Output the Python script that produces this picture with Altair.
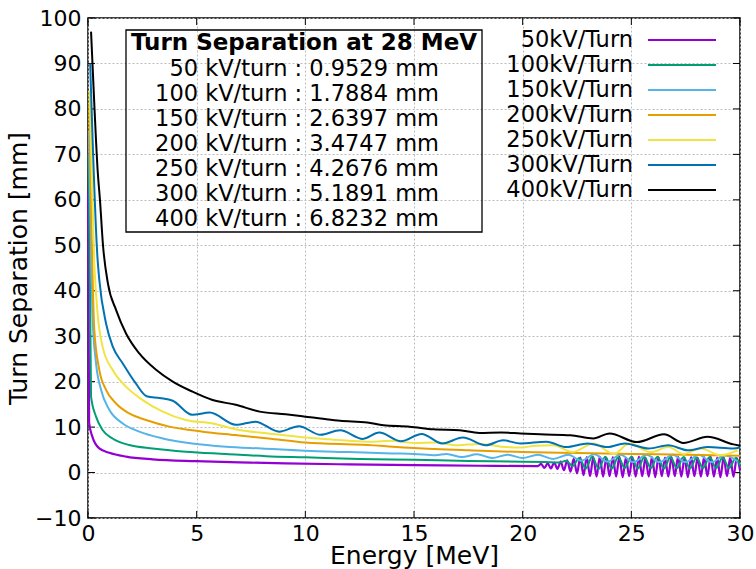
import altair as alt
import pandas as pd

series_names = ["50kV/Turn", "100kV/Turn", "150kV/Turn", "200kV/Turn",
                "250kV/Turn", "300kV/Turn", "400kV/Turn"]
colors = ["#9400d3", "#009e73", "#56b4e9", "#e69f00", "#f0e442", "#0072b2", "#000000"]

xticks = [0, 5, 10, 15, 20, 25, 30]
yticks = [-10, 0, 10, 20, 30, 40, 50, 60, 70, 80, 90, 100]

kv_list = [50, 100, 150, 200, 250, 300, 400]
sep_at_28 = ["0.9529", "1.7884", "2.6397", "3.4747", "4.2676", "5.1891", "6.8232"]
box_title = "Turn Separation at 28 MeV"

# 50 kV/turn
E50 = [0.01, 0.05, 0.2, 0.52, 0.98, 1.75, 2.98, 4.97, 6.96, 9.1, 12.0, 15.0, 18.0, 20.7,
       20.85, 21.0, 21.15, 21.3, 21.45, 21.6, 21.75, 21.9, 22.05, 22.2, 22.35, 22.5, 22.65,
       22.8, 22.95, 23.1, 23.25, 23.4, 23.55, 23.7, 23.85, 24.0, 24.15, 24.3, 24.45, 24.6,
       24.75, 24.9, 25.05, 25.2, 25.35, 25.5, 25.65, 25.8, 25.95, 26.1, 26.25, 26.4, 26.55,
       26.7, 26.85, 27.0, 27.15, 27.3, 27.45, 27.6, 27.75, 27.9, 28.05, 28.2, 28.35, 28.5,
       28.65, 28.8, 28.95, 29.1, 29.25, 29.4, 29.55, 29.7, 29.85, 30.0]
V50 = [62.0, 11.0, 7.9, 5.3, 4.35, 3.5, 2.9, 2.5, 2.25, 2.0, 1.8, 1.65, 1.5, 1.4,
       1.9, 1.0, 2.0, 0.9, 2.2, 0.8, 2.4, 0.5, 2.7, 0.2, 3.0, -0.2, 3.3,
       -0.6, 3.4, -0.8, 3.4, -0.9, 3.5, -0.9, 3.3, -0.8, 3.4, -0.9, 3.5, -1.0,
       3.3, -0.8, 3.4, -0.9, 3.5, -0.8, 3.3, -0.9, 3.4, -1.0, 3.4, -0.8, 3.3,
       -0.9, 3.4, -0.8, 3.5, -0.9, 3.3, -1.0, 3.4, -0.8, 3.3, -0.9, 3.4, -0.8,
       3.5, -0.9, 3.3, -1.0, 3.4, -0.8, 3.3, -0.9, 3.2, 0.5]

# 100 kV/turn
E100 = [0.03, 0.14, 0.37, 0.67, 1.13, 1.9, 2.98, 4.5, 6.35, 8.2, 10.0, 12.5, 15.0, 17.5,
        20.0, 21.0, 21.7, 22.0, 22.3, 22.6, 22.9, 23.2, 23.5, 23.8, 24.1, 24.4, 24.7, 25.0,
        25.3, 25.6, 25.9, 26.2, 26.5, 26.8, 27.1, 27.4, 27.7, 28.0, 28.3, 28.6, 28.9, 29.2,
        29.5, 29.8, 30.0]
V100 = [70.0, 16.7, 12.3, 9.35, 7.5, 6.05, 5.3, 4.6, 4.1, 3.6, 3.35, 3.0, 2.8, 2.55,
        2.4, 2.3, 2.2, 2.6, 1.4, 3.2, 0.9, 3.5, 0.8, 3.5, 0.9, 3.4, 1.0, 3.5,
        0.9, 3.4, 1.0, 3.5, 0.9, 3.4, 1.0, 3.4, 0.9, 3.3, 1.0, 3.4, 1.0, 3.3,
        1.0, 3.2, 1.5]

# 150 kV/turn
E150 = [0.04, 0.2, 0.37, 0.6, 0.98, 1.6, 2.36, 3.44, 4.8, 6.35, 8.0, 10.0, 12.0, 14.0, 15.0,
        16.0, 16.5, 17.2, 17.9, 18.6, 19.3, 20.0, 20.7, 21.4, 22.1, 22.7, 23.3, 23.9, 24.5,
        25.1, 25.7, 26.3, 26.9, 27.5, 28.1, 28.7, 29.3, 29.9]
V150 = [75.0, 35.0, 24.0, 18.2, 13.8, 10.8, 9.0, 7.5, 6.4, 5.7, 5.3, 4.8, 4.5, 4.2, 4.1,
        3.8, 4.1, 3.4, 4.0, 3.2, 3.9, 3.2, 3.9, 3.0, 3.9, 2.6, 4.0, 2.4, 3.9,
        2.3, 3.9, 2.3, 3.9, 2.3, 3.9, 2.3, 3.8, 2.4]

# 200 kV/turn
E200 = [0.06, 0.29, 0.52, 0.83, 1.29, 1.9, 2.67, 3.74, 5.28, 6.8, 8.3, 10.0, 12.65, 15.0,
        17.5, 20.0, 22.5, 25.0, 27.5, 30.0]
V200 = [81.0, 31.4, 22.6, 18.2, 15.2, 13.0, 11.55, 10.1, 9.0, 8.25, 7.5, 6.6, 6.1, 5.4,
        4.9, 4.5, 4.3, 4.1, 3.9, 3.7]

# 250 kV/turn
E250 = [0.07, 0.29, 0.44, 0.67, 1.13, 1.75, 2.5, 3.44, 4.5, 5.74, 6.96, 8.3, 10.0, 11.1,
        12.0, 13.0, 14.0, 15.0, 16.0, 17.0, 18.0, 19.0, 19.9, 20.6, 21.4, 22.3, 23.25, 24.2,
        24.9, 25.9, 26.7, 27.4, 28.2, 29.1, 29.9]
V250 = [84.0, 46.0, 35.0, 27.7, 22.6, 18.9, 16.0, 13.4, 11.55, 10.8, 9.35, 8.6, 7.7, 7.3,
        7.0, 6.8, 7.0, 6.5, 6.6, 6.0, 6.3, 5.7, 5.5, 5.9, 6.0, 4.5, 6.4, 4.1,
        6.4, 4.5, 5.6, 4.1, 5.3, 3.8, 4.9]

# 300 kV/turn
E300 = [0.1, 0.44, 0.52, 0.83, 1.14, 1.6, 2.2, 2.7, 3.3, 3.9, 4.8, 5.6, 6.8, 7.7, 8.8, 9.7,
        10.7, 11.6, 12.65, 13.4, 14.4, 15.35, 16.3, 17.25, 18.3, 19.1, 19.9, 21.1, 22.0,
        23.0, 23.9, 24.7, 25.8, 26.7, 27.6, 28.5, 29.7, 30.0]
V300 = [90.0, 47.0, 42.4, 32.8, 27.7, 24.0, 19.6, 16.8, 16.4, 15.8, 12.7, 13.2, 10.5, 11.2,
        9.0, 10.2, 8.3, 9.3, 7.4, 8.8, 6.9, 8.5, 6.4, 7.7, 6.0, 7.1, 6.4, 6.8, 5.6,
        6.4, 5.6, 6.4, 5.3, 6.0, 4.9, 5.6, 5.3, 5.5]

# 400 kV/turn
E400 = [0.14, 0.3, 0.45, 0.55, 0.69, 0.92, 1.29, 1.75, 2.36, 3.13, 3.9, 4.8, 5.7, 6.8, 7.9,
        9.1, 10.0, 10.7, 11.6, 12.85, 13.6, 14.8, 15.9, 17.1, 18.0, 19.0, 19.9, 20.8, 22.2,
        23.25, 24.0, 25.25, 26.5, 27.4, 28.5, 29.7, 30.0]
V400 = [97.0, 80.0, 66.0, 60.0, 50.0, 41.5, 35.8, 30.6, 26.2, 22.6, 20.0, 17.8, 16.0, 14.9,
        13.4, 12.8, 12.3, 11.9, 11.4, 11.0, 10.4, 10.1, 9.5, 9.3, 8.7, 8.8, 8.6, 8.4, 8.2,
        7.5, 8.6, 6.7, 8.4, 6.5, 7.85, 6.2, 5.9]

all_E = [E50, E100, E150, E200, E250, E300, E400]
all_V = [V50, V100, V150, V200, V250, V300, V400]

rows = []
for name, es, vs in zip(series_names, all_E, all_V):
    for e, v in zip(es, vs):
        rows.append({"E": e, "V": v, "series": name})
df = pd.DataFrame(rows)

box_lines = [f"{kv} kV/turn : {s} mm" for kv, s in zip(kv_list, sep_at_28)]

FONT = "DejaVu Sans"
TICK_FS = 22
TITLE_FS = 25
BOX_FS = 22.5

xs = alt.Scale(domain=[0, 30], nice=False, zero=False)
ys = alt.Scale(domain=[-10, 100], nice=False, zero=False)
x_axis = alt.Axis(values=xticks, title="Energy [MeV]", grid=True, ticks=False, domain=False,
                  labelFontSize=TICK_FS, titleFontSize=TITLE_FS, labelPadding=5,
                  titleY=45, titleBaseline="alphabetic",
                  labelFlush=False, format="d")
y_axis = alt.Axis(values=yticks, title="Turn Separation [mm]", grid=True, ticks=False,
                  domain=False, labelFontSize=TICK_FS, titleFontSize=TITLE_FS, labelPadding=7,
                  titleX=-70, titleAlign="center", titleBaseline="middle", titleAngle=270,
                  labelFlush=False, format="d")
X = alt.X("E:Q", scale=xs, axis=x_axis)
Y = alt.Y("V:Q", scale=ys, axis=y_axis)

cscale = alt.Scale(domain=series_names, range=colors)
color = alt.Color("series:N", scale=cscale, legend=None)

xt = pd.DataFrame({"E": xticks})
yt = pd.DataFrame({"V": yticks})
ticks = [
    alt.Chart(xt).mark_rule(color="black", strokeWidth=1).encode(x=X, y=alt.value(500), y2=alt.value(493)),
    alt.Chart(xt).mark_rule(color="black", strokeWidth=1).encode(x=X, y=alt.value(0), y2=alt.value(7)),
    alt.Chart(yt).mark_rule(color="black", strokeWidth=1).encode(y=Y, x=alt.value(0), x2=alt.value(7)),
    alt.Chart(yt).mark_rule(color="black", strokeWidth=1).encode(y=Y, x=alt.value(652), x2=alt.value(645)),
]

lines = [
    alt.Chart(df).transform_filter(alt.datum.series == name)
    .mark_line(strokeWidth=2.2 if i == 0 else 2, interpolate="monotone")
    .encode(x=X, y=Y, color=color)
    for i, name in enumerate(series_names)
]

one = pd.DataFrame({"k": [0]})
box = alt.Chart(one).mark_rect(fill="transparent", stroke="black", strokeWidth=1.3).encode(
    x=alt.value(38), x2=alt.value(394), y=alt.value(12), y2=alt.value(214))
title_txt = alt.Chart(one).mark_text(fontSize=23, fontWeight="bold", align="center",
                                     baseline="middle", font=FONT, color="black").encode(
    x=alt.value(216), y=alt.value(25), text=alt.value(box_title))
body_txt = alt.Chart(one).mark_text(fontSize=BOX_FS, align="right", baseline="middle",
                                    lineHeight=25, font=FONT, color="black").encode(
    x=alt.value(351), y=alt.value(51), text=alt.value(box_lines))

plot = alt.layer(*ticks, *lines, box, title_txt, body_txt)

# key (legend) rows: labels right-aligned, line samples to their right
leg_df = pd.DataFrame({"series": series_names})
leg_y = alt.Y("series:N", sort=series_names, axis=None,
              scale=alt.Scale(type="point", range=[22, 172], padding=0))
leg_text = alt.Chart(leg_df).mark_text(fontSize=BOX_FS, align="right", baseline="middle",
                                       font=FONT, color="black").encode(
    y=leg_y, x=alt.value(545), text="series:N")
leg_line = alt.Chart(leg_df).mark_rule(strokeWidth=2).encode(
    y=leg_y, x=alt.value(560), x2=alt.value(628), color=color)
key = alt.layer(leg_text, leg_line)

chart = alt.layer(plot, key).resolve_scale(y="independent").properties(
    width=652, height=500,
    autosize=alt.AutoSizeParams(type="none"),
    padding={"left": 88, "top": 18, "right": 16, "bottom": 51},
).configure_view(stroke="black", strokeWidth=1.5).configure_axis(
    gridColor="#bdbdbd", gridDash=[2, 2], gridWidth=1, gridOpacity=1,
    labelFont=FONT, titleFont=FONT, labelColor="black", titleColor="black",
    titleFontWeight="normal"
)

chart.save("out.html", embed_options={"renderer": "svg", "actions": False})
